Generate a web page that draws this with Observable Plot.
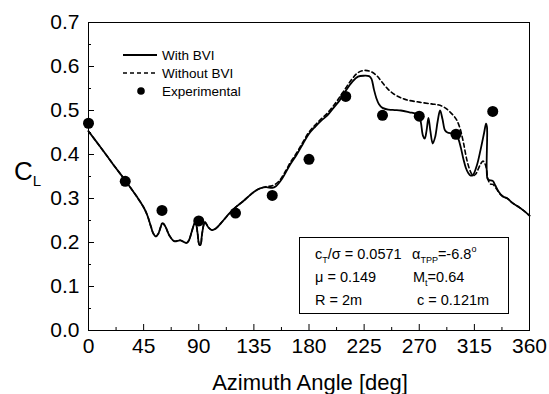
<!DOCTYPE html>
<html><head><meta charset="utf-8">
<script src="https://cdn.jsdelivr.net/npm/d3@7"></script>
<script src="https://cdn.jsdelivr.net/npm/@observablehq/plot@0.6"></script>
<style>
html,body{margin:0;padding:0;background:#fff}
svg{font-family:"Liberation Sans",Arial,sans-serif}
</style>
</head><body><div id="chart"></div>
<script>
// ---- data ----
const withAz = [0,10,20,30,40,45,48,51,53,55,57,59,60,61,63,66,70,75,80,82,84,86,87,88,89,90.5,91.5,92.5,94,95,96,98,101,104,110,115,120,125,130,135,140,145,150,153,158,165,170,175,180,185,190,195,200,205,210,215,220,225,229,231,233,235,237,240,245,250,255,262,268,270,271.5,273,274.5,276,277.5,279,281,283,285,287,289,291,293,297,300,302,304,306,308,310,312,314,317,320,323,324.5,325.3,325.7,327,330,332,335,338,342,346,350,355,360];
const withCL = [0.453,0.416,0.378,0.341,0.302,0.280,0.262,0.236,0.220,0.214,0.220,0.236,0.243,0.243,0.235,0.216,0.203,0.205,0.199,0.205,0.222,0.240,0.245,0.240,0.222,0.195,0.195,0.215,0.240,0.246,0.243,0.234,0.228,0.232,0.250,0.266,0.280,0.291,0.303,0.315,0.323,0.326,0.324,0.328,0.345,0.379,0.400,0.424,0.447,0.463,0.477,0.489,0.506,0.523,0.545,0.564,0.577,0.579,0.578,0.572,0.548,0.528,0.515,0.506,0.502,0.501,0.500,0.496,0.492,0.488,0.470,0.443,0.436,0.455,0.483,0.455,0.425,0.440,0.475,0.500,0.480,0.455,0.450,0.448,0.445,0.435,0.415,0.390,0.370,0.358,0.352,0.354,0.375,0.410,0.450,0.470,0.462,0.345,0.342,0.340,0.330,0.315,0.305,0.300,0.290,0.283,0.273,0.261];

const withoutAz = [0,10,20,30,40,45,48,51,53,55,57,59,60,61,63,66,70,75,80,82,84,86,87,88,89,90.5,91.5,92.5,94,95,96,98,101,104,110,115,120,125,130,135,140,145,150,155,160,165,170,175,180,185,190,195,200,205,210,215,220,225,230,235,240,245,250,255,260,270,280,285,290,295,300,303,306,309,312,314,316,318,320,322,323.5,325,326,328,330,333,336,340,342,346,350,355,360];
const withoutCL = [0.453,0.416,0.378,0.341,0.302,0.280,0.262,0.236,0.220,0.214,0.220,0.236,0.243,0.243,0.235,0.216,0.203,0.205,0.199,0.205,0.222,0.240,0.245,0.240,0.222,0.195,0.195,0.215,0.240,0.246,0.243,0.234,0.228,0.232,0.250,0.266,0.280,0.291,0.303,0.315,0.323,0.327,0.329,0.338,0.358,0.383,0.404,0.428,0.451,0.467,0.481,0.494,0.511,0.530,0.551,0.571,0.586,0.591,0.589,0.580,0.563,0.547,0.536,0.529,0.524,0.519,0.515,0.513,0.508,0.497,0.481,0.462,0.428,0.386,0.360,0.352,0.355,0.366,0.378,0.385,0.380,0.365,0.345,0.333,0.332,0.322,0.310,0.302,0.300,0.290,0.283,0.273,0.261];

const expAz = [0,30,60,90,120,150,180,210,240,270,300,330];
const expCL = [0.471,0.339,0.273,0.249,0.267,0.307,0.389,0.532,0.489,0.487,0.446,0.498];

const xMajor = [0,45,90,135,180,225,270,315,360];
const xMinor = [22.5,67.5,112.5,157.5,202.5,247.5,292.5,337.5];
const yMajor = [0,0.1,0.2,0.3,0.4,0.5,0.6,0.7];
const yMinor = [0.05,0.15,0.25,0.35,0.45,0.55,0.65];

const legendLabels = ["With BVI","Without BVI","Experimental"];
const xTitle = "Azimuth Angle [deg]";

// ---- tables ----
const withData = withAz.map((x,i)=>({x, y: withCL[i]}));
const withoutData = withoutAz.map((x,i)=>({x, y: withoutCL[i]}));
const expData = expAz.map((x,i)=>({x, y: expCL[i]}));

const W = 549, H = 394;
const mL = 88, mR = 20, mT = 22, mB = 64;
const pxX = (360)/(W-mL-mR), pxY = 0.7/(H-mT-mB);

const chart = Plot.plot({
  width: W, height: H,
  marginLeft: mL, marginRight: mR, marginTop: mT, marginBottom: mB,
  style: {fontFamily: '"Liberation Sans", Arial, sans-serif', background: "#fff", overflow: "visible"},
  x: {domain: [0,360], axis: null},
  y: {domain: [0,0.7], axis: null},
  marks: [
    Plot.ruleX(xMajor, {x: d=>d, y1: 0, y2: 6*pxY, stroke: "#000", strokeWidth: 1}),
    Plot.ruleX(xMinor, {x: d=>d, y1: 0, y2: 3*pxY, stroke: "#000", strokeWidth: 1}),
    Plot.ruleY(yMajor, {y: d=>d, x1: 0, x2: 6*pxX, stroke: "#000", strokeWidth: 1}),
    Plot.ruleY(yMinor, {y: d=>d, x1: 0, x2: 3*pxX, stroke: "#000", strokeWidth: 1}),
    Plot.line(withoutData, {x: "x", y: "y", stroke: "#000", strokeWidth: 1.6, strokeDasharray: "4,3", curve: "catmull-rom"}),
    Plot.line(withData, {x: "x", y: "y", stroke: "#000", strokeWidth: 1.8, curve: "catmull-rom"}),
    Plot.dot(expData, {x: "x", y: "y", r: 5.5, fill: "#000", stroke: "none"}),
    Plot.axisX({ticks: xMajor, tickSize: 0, tickPadding: 8, fontSize: 21, label: null, tickFormat: d=>String(d)}),
    Plot.axisY({ticks: yMajor, tickSize: 0, tickPadding: 9, fontSize: 21, label: null, tickFormat: d3.format(".1f")}),
    Plot.frame({stroke: "#000", strokeWidth: 1})
  ]
});
document.getElementById("chart").appendChild(chart);

// ---- annotations ----
const svg = d3.select(chart);
const g = svg.append("g").attr("font-family", '"Liberation Sans", Arial, sans-serif')
  .attr("fill", "#000").attr("text-anchor", "start");

// x title
g.append("text").attr("x", 310).attr("y", 390).attr("text-anchor", "middle")
  .attr("font-size", 22).text(xTitle);

// y title C_L
const yt = g.append("text").attr("x", 14).attr("y", 180).attr("font-size", 26);
yt.append("tspan").text("C");
yt.append("tspan").attr("font-size", 15).attr("dy", 6).text("L");

// legend
const lg = g.append("g").attr("font-size", 13.5);
lg.append("line").attr("x1", 123).attr("x2", 157).attr("y1", 55).attr("y2", 55).attr("stroke", "#000").attr("stroke-width", 1.8);
lg.append("line").attr("x1", 123).attr("x2", 157).attr("y1", 73).attr("y2", 73).attr("stroke", "#000").attr("stroke-width", 1.6).attr("stroke-dasharray", "4,3");
lg.append("circle").attr("cx", 141).attr("cy", 91).attr("r", 3.8).attr("fill", "#000");
legendLabels.forEach((t,i)=>{
  lg.append("text").attr("x", 162).attr("y", 55 + 18*i).attr("dy", "0.35em").text(t);
});

// parameter box
const bx = g.append("g").attr("font-size", 14.5);
bx.append("rect").attr("x", 299.5).attr("y", 237.5).attr("width", 209).attr("height", 76)
  .attr("fill", "#fff").attr("stroke", "#000").attr("stroke-width", 1);
function row(x, y, parts) {
  const t = bx.append("text").attr("x", x).attr("y", y);
  parts.forEach(p => {
    const s = t.append("tspan").text(p.t);
    if (p.sub) s.attr("font-size", 9).attr("dy", 4);
    if (p.sup) s.attr("font-size", 9).attr("dy", -7);
    if (p.back) s.attr("dy", p.back);
  });
}
row(315, 259, [{t:"c"},{t:"T",sub:true},{t:"/σ = 0.0571",back:-4}]);
row(412, 259, [{t:"α"},{t:"TPP",sub:true},{t:"=-6.8",back:-4},{t:"o",sup:true}]);
row(315, 282, [{t:"μ = 0.149"}]);
row(413, 282, [{t:"M"},{t:"t",sub:true},{t:"=0.64",back:-4}]);
row(315, 305, [{t:"R = 2m"}]);
row(417, 305, [{t:"c = 0.121m"}]);
</script>
</body></html>
